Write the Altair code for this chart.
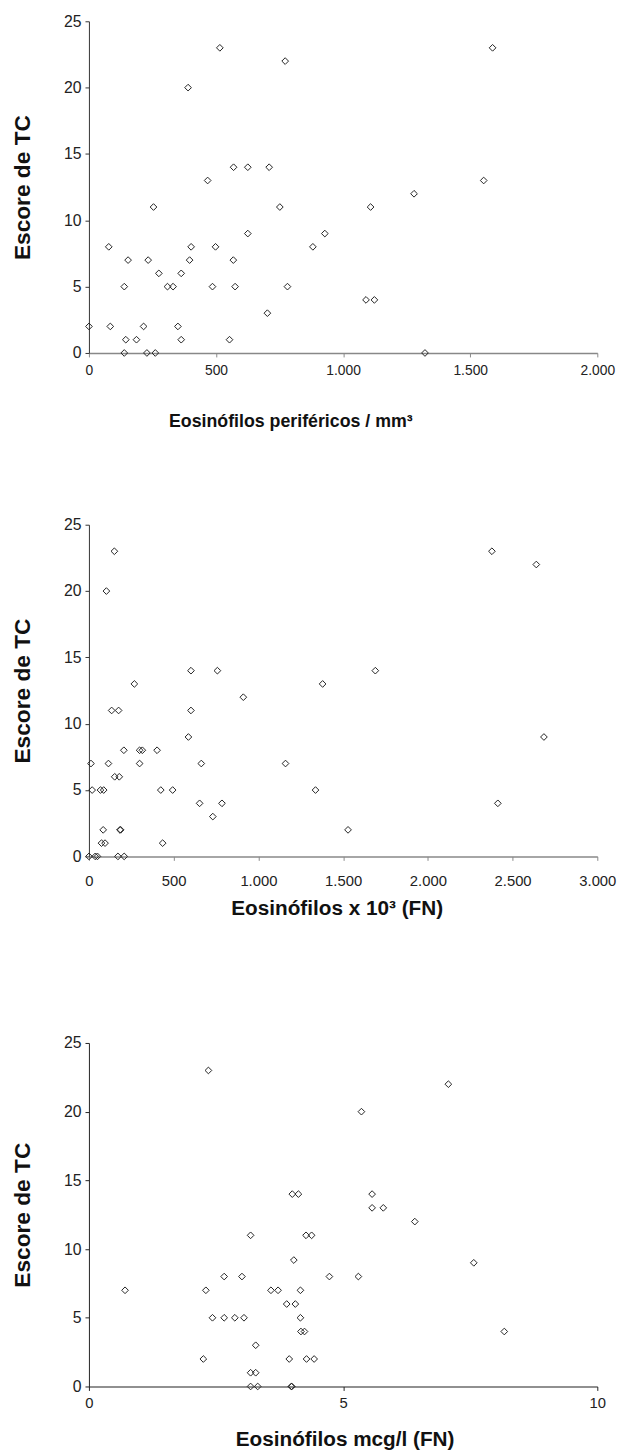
import altair as alt
import pandas as pd

# ---------------- data ----------------
p1_x = [0, 78, 84, 139, 139, 145, 154, 187, 215, 228, 233, 254, 261, 275, 309, 331, 350, 363, 363, 390,
        396, 402, 467, 486, 498, 515, 553, 568, 569, 575, 625, 625, 702, 709, 751, 772, 781, 881, 928, 1090,
        1108, 1123, 1279, 1322, 1553, 1588]
p1_y = [2, 8, 2, 5, 0, 1, 7, 1, 2, 0, 7, 11, 0, 6, 5, 5, 2, 6, 1, 20,
        7, 8, 13, 5, 8, 23, 1, 7, 14, 5, 14, 9, 3, 14, 11, 22, 5, 8, 9, 4,
        11, 4, 12, 0, 13, 23]

p2_x = [0, 12, 19, 37, 50, 68, 87, 74, 95, 84, 103, 115, 134, 150, 152, 175, 179, 183, 187, 171,
        206, 208, 268, 299, 299, 315, 402, 424, 435, 494, 587, 602, 602, 653, 663, 731, 758, 785, 911, 1160,
        1337, 1379, 1529, 1690, 2378, 2413, 2640, 2685]
p2_y = [0, 7, 5, 0, 0, 5, 5, 1, 1, 2, 20, 7, 11, 23, 6, 11, 6, 2, 2, 0,
        8, 0, 13, 7, 8, 8, 8, 5, 1, 5, 9, 14, 11, 4, 7, 3, 14, 4, 12, 7,
        5, 13, 2, 14, 23, 4, 22, 9]

p3_x = [0.71, 2.25, 2.30, 2.35, 2.43, 2.66, 2.66, 2.87, 3.01, 3.05, 3.18, 3.18, 3.28, 3.18, 3.32, 3.28,
        3.58, 3.72, 3.89, 3.94, 3.98, 3.99, 4.00, 4.03, 4.06, 4.12, 4.16, 4.16, 4.17, 4.24, 4.27, 4.38,
        4.28, 4.43, 4.73, 5.30, 5.36, 5.57, 5.57, 5.79, 6.41, 7.07, 7.57, 8.17]
p3_y = [7, 2, 7, 23, 5, 8, 5, 5, 8, 5, 11, 1, 1, 0, 0, 3,
        7, 7, 6, 2, 0, 0, 14, 9.2, 6, 14, 7, 5, 4, 4, 11, 11,
        2, 2, 8, 8, 20, 14, 13, 13, 12, 22, 9, 4]

y_ticks = [0, 5, 10, 15, 20, 25]
p1_ticks = [0, 500, 1000, 1500, 2000]
p2_ticks = [0, 500, 1000, 1500, 2000, 2500, 3000]
p3_ticks = [0, 5, 10]

y_title = "Escore de TC"
p1_title = "Eosinófilos periféricos / mm³"
p2_title = "Eosinófilos x 10³  (FN)"
p3_title = "Eosinófilos mcg/l (FN)"

FONT = "Liberation Sans"
W = 515


def panel(xs, ys, xmax, xticks, xtitle, height, title_x, title_y, label_pad,
          xlabel_size=15, xtitle_size=21,
          xaxis_color="#888888", yaxis_color="#333333", xdom_w=1.5):
    df = pd.DataFrame({"x": xs, "y": ys})
    return alt.Chart(df).mark_point(
        shape="diamond", filled=False, size=46, strokeWidth=1, color="#222222", opacity=1
    ).encode(
        x=alt.X("x:Q", scale=alt.Scale(domain=[0, xmax], nice=False, zero=True),
                axis=alt.Axis(values=xticks, grid=False, title=xtitle,
                              labelExpr="replace(format(datum.value, ','), ',', '.')",
                              labelFlush=False, labelOverlap=False,
                              labelFont=FONT, labelFontSize=xlabel_size, labelColor="#222222",
                              labelPadding=label_pad, tickSize=4, tickColor=xaxis_color,
                              domainColor=xaxis_color, domainWidth=xdom_w,
                              titleFont=FONT, titleFontSize=xtitle_size, titleFontWeight="bold",
                              titleColor="#111111", titleX=title_x, titleY=title_y,
                              titleAlign="center", titleBaseline="alphabetic")),
        y=alt.Y("y:Q", scale=alt.Scale(domain=[0, 25], nice=False),
                axis=alt.Axis(values=y_ticks, grid=False, title=y_title,
                              labelFlush=False, labelOverlap=False,
                              labelFont=FONT, labelFontSize=16, labelColor="#222222",
                              labelPadding=4, tickSize=4, tickColor=yaxis_color,
                              domainColor=yaxis_color, domainWidth=1,
                              titleFont=FONT, titleFontSize=23, titleFontWeight="bold",
                              titleColor="#111111", titleX=-60, titleY=height / 2,
                              titleAngle=270, titleAlign="center",
                              titleBaseline="alphabetic")),
    ).properties(width=W, height=height)


c1 = panel(p1_x, p1_y, 2000, p1_ticks, p1_title, 336, 204, 75, 7,
           xlabel_size=14, xtitle_size=18)
c2 = panel(p2_x, p2_y, 3000, p2_ticks, p2_title, 336, 251, 59, 13)
c3 = panel(p3_x, p3_y, 10, p3_ticks, p3_title, 348, 259, 60, 5,
           xaxis_color="#222222", yaxis_color="#222222", xdom_w=1.2)

inner = alt.vconcat(c1, c2, spacing=87)
chart = alt.vconcat(inner, c3, spacing=118).properties(
    padding={"left": 4, "top": -4, "right": 5, "bottom": 0},
    background="white",
).configure_view(stroke="transparent", strokeWidth=0)

chart.save("out.html", embed_options={"renderer": "svg", "actions": False})
